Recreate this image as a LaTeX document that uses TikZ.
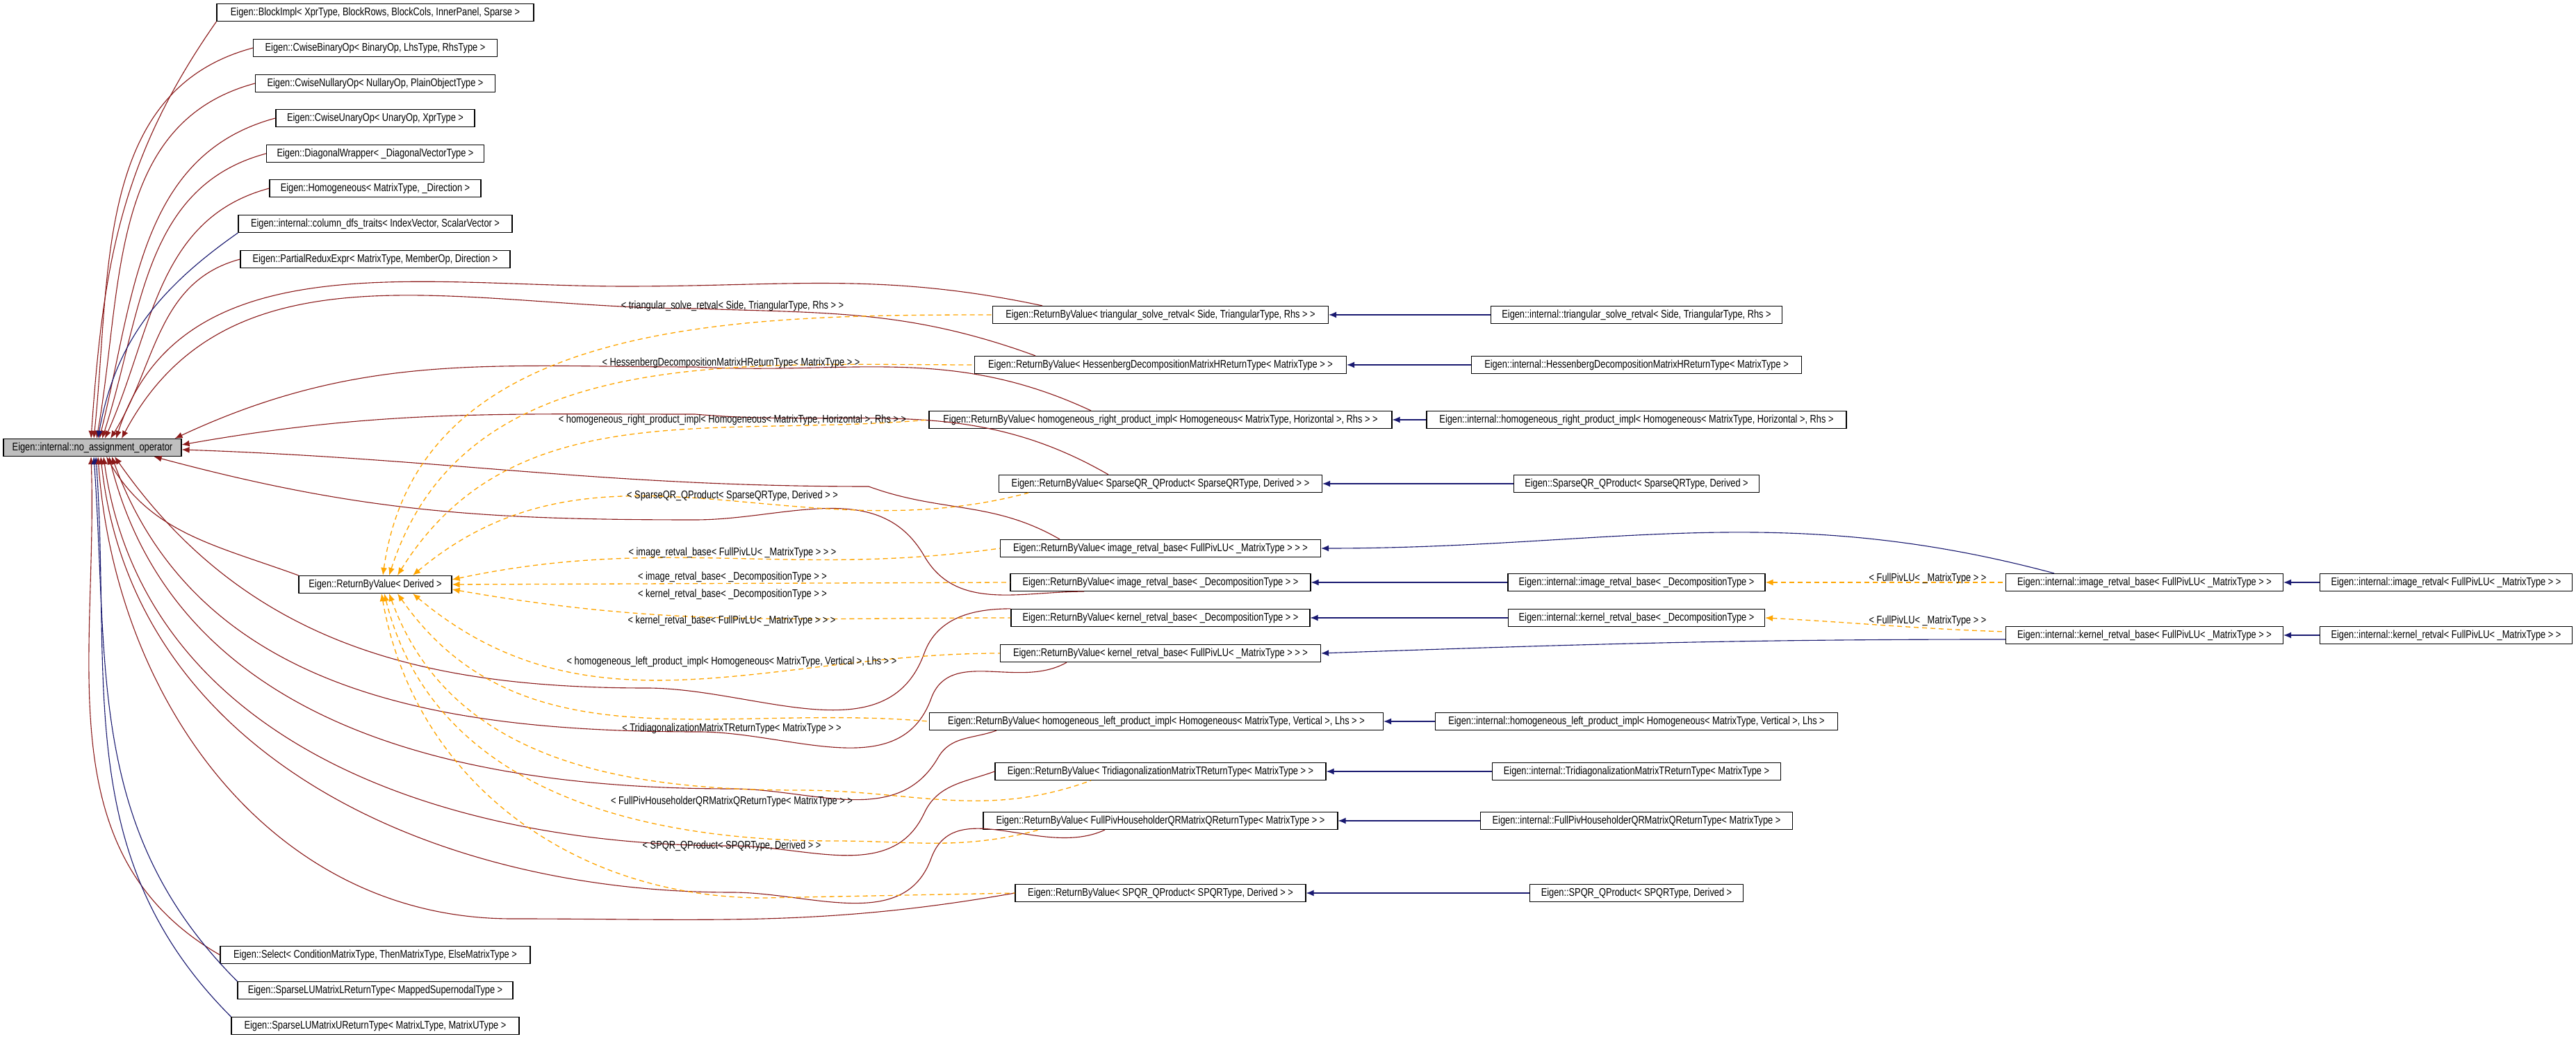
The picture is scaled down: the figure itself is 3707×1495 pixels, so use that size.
\documentclass[tikz,border=0pt]{standalone}
\usepackage{fontspec}
\setmainfont{Liberation Sans}[FakeStretch=0.8]
\usetikzlibrary{arrows.meta, calc}
\definecolor{privred}{RGB}{139,26,26}
\definecolor{pubblue}{RGB}{25,25,112}
\definecolor{tmplorange}{RGB}{255,165,0}
\definecolor{basegray}{RGB}{191,191,191}

\begin{document}
\begin{tikzpicture}[x=0.25pt, y=-0.25pt,
	cls/.style={draw, line width=0.3pt, minimum height=6.25pt, inner sep=0.5pt, font=\fontsize{4}{4.4}\selectfont},
	bw/.style={minimum width=#1*0.25pt},
	priv/.style={draw=privred, line width=0.28pt, {Latex[length=2.75pt,width=2.25pt]}-},
	pub/.style={draw=pubblue, line width=0.28pt, {Latex[length=2.75pt,width=2.25pt]}-},
	tmpl/.style={draw=tmplorange, line width=0.33pt, dash pattern=on 1.75pt off 1.25pt, {Latex[length=2.75pt,width=2.25pt]}-},
	lbl/.style={inner sep=0.25pt, font=\fontsize{4}{4.4}\selectfont}]
	\useasboundingbox (0,0) rectangle (3707,1495);

	% base class
	\node [cls, fill=basegray, bw=256] (na) at (133,644) {Eigen::internal::no\_assignment\_operator};

	% plain subclasses
	\node [cls, bw=456] (blk) at (540,18) {Eigen::BlockImpl< XprType, BlockRows, BlockCols, InnerPanel, Sparse >};
	\node [cls, bw=351] (cbin) at (540,69) {Eigen::CwiseBinaryOp< BinaryOp, LhsType, RhsType >};
	\node [cls, bw=345] (cnul) at (540,120) {Eigen::CwiseNullaryOp< NullaryOp, PlainObjectType >};
	\node [cls, bw=286] (cun) at (540,170) {Eigen::CwiseUnaryOp< UnaryOp, XprType >};
	\node [cls, bw=313] (diag) at (540,221) {Eigen::DiagonalWrapper< \_DiagonalVectorType >};
	\node [cls, bw=304] (homo) at (540,271) {Eigen::Homogeneous< MatrixType, \_Direction >};
	\node [cls, bw=394] (cdfs) at (540,322) {Eigen::internal::column\_dfs\_traits< IndexVector, ScalarVector >};
	\node [cls, bw=388] (prx) at (540,373) {Eigen::PartialReduxExpr< MatrixType, MemberOp, Direction >};
	\node [cls, bw=446] (sel) at (540,1374) {Eigen::Select< ConditionMatrixType, ThenMatrixType, ElseMatrixType >};
	\node [cls, bw=396] (slul) at (540,1425) {Eigen::SparseLUMatrixLReturnType< MappedSupernodalType >};
	\node [cls, bw=414] (sluu) at (540,1476) {Eigen::SparseLUMatrixUReturnType< MatrixLType, MatrixUType >};
	\node [cls, bw=220] (rbvd) at (540,841) {Eigen::ReturnByValue< Derived >};

	% ReturnByValue instances
	\node [cls, bw=483] (rtri) at (1670,453) {Eigen::ReturnByValue< triangular\_solve\_retval< Side, TriangularType, Rhs > >};
	\node [cls, bw=535] (rhes) at (1670,525) {Eigen::ReturnByValue< HessenbergDecompositionMatrixHReturnType< MatrixType > >};
	\node [cls, bw=666] (rhr) at (1670,604) {Eigen::ReturnByValue< homogeneous\_right\_product\_impl< Homogeneous< MatrixType, Horizontal >, Rhs > >};
	\node [cls, bw=465] (rsqr) at (1670,696) {Eigen::ReturnByValue< SparseQR\_QProduct< SparseQRType, Derived > >};
	\node [cls, bw=461] (rimf) at (1670,789) {Eigen::ReturnByValue< image\_retval\_base< FullPivLU< \_MatrixType > > >};
	\node [cls, bw=432] (rimd) at (1670,838) {Eigen::ReturnByValue< image\_retval\_base< \_DecompositionType > >};
	\node [cls, bw=430] (rked) at (1670,889) {Eigen::ReturnByValue< kernel\_retval\_base< \_DecompositionType > >};
	\node [cls, bw=461] (rkef) at (1670,940) {Eigen::ReturnByValue< kernel\_retval\_base< FullPivLU< \_MatrixType > > >};
	\node [cls, bw=653] (rhl) at (1664,1038) {Eigen::ReturnByValue< homogeneous\_left\_product\_impl< Homogeneous< MatrixType, Vertical >, Lhs > >};
	\node [cls, bw=476] (rtd) at (1670,1110) {Eigen::ReturnByValue< TridiagonalizationMatrixTReturnType< MatrixType > >};
	\node [cls, bw=510] (rfhh) at (1670,1181) {Eigen::ReturnByValue< FullPivHouseholderQRMatrixQReturnType< MatrixType > >};
	\node [cls, bw=418] (rspqr) at (1670,1285) {Eigen::ReturnByValue< SPQR\_QProduct< SPQRType, Derived > >};

	% implementing classes
	\node [cls, bw=419] (itri) at (2355,453) {Eigen::internal::triangular\_solve\_retval< Side, TriangularType, Rhs >};
	\node [cls, bw=475] (ihes) at (2355,525) {Eigen::internal::HessenbergDecompositionMatrixHReturnType< MatrixType >};
	\node [cls, bw=604] (ihr) at (2355,604) {Eigen::internal::homogeneous\_right\_product\_impl< Homogeneous< MatrixType, Horizontal >, Rhs >};
	\node [cls, bw=353] (isqr) at (2355,696) {Eigen::SparseQR\_QProduct< SparseQRType, Derived >};
	\node [cls, bw=370] (iimd) at (2355,838) {Eigen::internal::image\_retval\_base< \_DecompositionType >};
	\node [cls, bw=369] (iked) at (2355,889) {Eigen::internal::kernel\_retval\_base< \_DecompositionType >};
	\node [cls, bw=579] (ihl) at (2355,1038) {Eigen::internal::homogeneous\_left\_product\_impl< Homogeneous< MatrixType, Vertical >, Lhs >};
	\node [cls, bw=415] (itd) at (2355,1110) {Eigen::internal::TridiagonalizationMatrixTReturnType< MatrixType >};
	\node [cls, bw=449] (ifhh) at (2355,1181) {Eigen::internal::FullPivHouseholderQRMatrixQReturnType< MatrixType >};
	\node [cls, bw=307] (ispqr) at (2355,1285) {Eigen::SPQR\_QProduct< SPQRType, Derived >};
	\node [cls, bw=399] (iimf) at (3086,838) {Eigen::internal::image\_retval\_base< FullPivLU< \_MatrixType > >};
	\node [cls, bw=399] (ikef) at (3086,914) {Eigen::internal::kernel\_retval\_base< FullPivLU< \_MatrixType > >};
	\node [cls, bw=363] (imr) at (3520,838) {Eigen::internal::image\_retval< FullPivLU< \_MatrixType > >};
	\node [cls, bw=363] (ker) at (3520,914) {Eigen::internal::kernel\_retval< FullPivLU< \_MatrixType > >};

	% edges to the base class
	\draw [priv] ($(na.north)+(-2,0)$) to[out=86,in=235] (blk.south west);
	\draw [priv] ($(na.north)+(2,0)$) to[out=84,in=195] (cbin.west);
	\draw [priv] ($(na.north)+(6,0)$) to[out=80,in=195] (cnul.west);
	\draw [priv] ($(na.north)+(10,0)$) to[out=76,in=195] (cun.west);
	\draw [priv] ($(na.north)+(14,0)$) to[out=72,in=195] (diag.west);
	\draw [priv] ($(na.north)+(18,0)$) to[out=66,in=195] (homo.west);
	\draw [pub] ($(na.north)+(8,0)$) to[out=80,in=215] (cdfs.south west);
	\draw [priv] ($(na.north)+(26,0)$) to[out=58,in=195] (prx.west);
	\draw [priv] ($(na.south)+(-2,0)$) to[out=-88,in=150] (sel.west);
	\draw [pub] ($(na.south)+(2,0)$) to[out=-86,in=135] (slul.north west);
	\draw [pub] ($(na.south)+(5,0)$) to[out=-86,in=135] (sluu.north west);
	\draw [priv] ($(na.south)+(20,0)$) to[out=-60,in=160] (rbvd.north west);
	\draw [priv] ($(na.north)+(34,0)$) to[out=72,in=180] (900,412) to[out=0,in=168] ($(rtri.north)+(-170,0)$);
	\draw [priv] ($(na.north)+(42,0)$) to[out=62,in=180] (1000,444) to[out=-2,in=160] ($(rhes.north)+(-180,0)$);
	\draw [priv] ($(na.north east)+(-10,0)$) to[out=25,in=180] (1000,528) to[out=-3,in=155] ($(rhr.north)+(-100,0)$);
	\draw [priv] ($(na.east)+(0,-4)$) to[out=10,in=180] (1000,596) to[out=-5,in=150] ($(rsqr.north)+(-75,0)$);
	\draw [priv] ($(na.east)+(0,3)$) to[out=-2,in=180] (1250,700) to[out=-20,in=150] ($(rimf.north)+(-145,0)$);
	\draw [priv] ($(na.south east)+(-40,0)$) to[out=-15,in=180] (1000,748) to[out=0,in=120] (1330,800) to[out=-60,in=180] ($(rimd.south)+(-110,0)$);
	\draw [priv] ($(na.south)+(32,0)$) to[out=-55,in=180] (930,990) to[out=0,in=-110] (1330,940) to[out=70,in=180] (rked.north west);
	\draw [priv] ($(na.south)+(28,0)$) to[out=-70,in=180] (1005,1053) to[out=0,in=-110] (1340,1005) to[out=70,in=-150] ($(rkef.south)+(-135,0)$);
	\draw [priv] ($(na.south)+(24,0)$) to[out=-76,in=180] (1053,1135) to[out=0,in=-120] (1350,1090) to[out=60,in=-160] ($(rhl.south)+(-230,0)$);
	\draw [priv] ($(na.south)+(16,0)$) to[out=-82,in=180] (1053,1217) to[out=0,in=-115] (1330,1170) to[out=65,in=-160] (rtd.west);
	\draw [priv] ($(na.south)+(12,0)$) to[out=-84,in=180] (1053,1284) to[out=0,in=-110] (1340,1235) to[out=70,in=-155] ($(rfhh.south)+(-80,0)$);
	\draw [priv] ($(na.south)+(8,0)$) to[out=-86,in=180] (737,1322) to[out=0,in=190] (rspqr.west);

	% template instances
	\draw [tmpl] ($(rbvd.north)+(11,0)$) to[out=82,in=180] (rtri.west);
	\draw [tmpl] ($(rbvd.north)+(20,0)$) to[out=72,in=180] (rhes.west);
	\draw [tmpl] ($(rbvd.north)+(32,0)$) to[out=58,in=185] (rhr.west);
	\draw [tmpl] ($(rbvd.north)+(54,0)$) to[out=40,in=195] ($(rsqr.south)+(-190,0)$);
	\draw [tmpl] ($(rbvd.east)+(0,-7)$) to[out=12,in=188] (rimf.west);
	\draw [tmpl] (rbvd.east) -- (rimd.west);
	\draw [tmpl] ($(rbvd.east)+(0,7)$) to[out=-10,in=180] (rked.west);
	\draw [tmpl] ($(rbvd.south)+(54,0)$) to[out=-40,in=180] (rkef.west);
	\draw [tmpl] ($(rbvd.south)+(32,0)$) to[out=-55,in=175] (rhl.west);
	\draw [tmpl] ($(rbvd.south)+(20,0)$) to[out=-70,in=180] (1150,1137) to[out=0,in=-160] ($(rtd.south)+(-100,0)$);
	\draw [tmpl] ($(rbvd.south)+(13,0)$) to[out=-76,in=180] (1200,1210) to[out=0,in=-165] ($(rfhh.south)+(-175,0)$);
	\draw [tmpl] ($(rbvd.south)+(9,0)$) to[out=-80,in=180] (1100,1292) -- (rspqr.west);
	\node [lbl] (ltri) at (1054,440) {< triangular\_solve\_retval< Side, TriangularType, Rhs > >};
	\node [lbl] (lhes) at (1052,522) {< HessenbergDecompositionMatrixHReturnType< MatrixType > >};
	\node [lbl] (lhr) at (1054,604) {< homogeneous\_right\_product\_impl< Homogeneous< MatrixType, Horizontal >, Rhs > >};
	\node [lbl] (lsqr) at (1054,713) {< SparseQR\_QProduct< SparseQRType, Derived > >};
	\node [lbl] (limf) at (1054,795) {< image\_retval\_base< FullPivLU< \_MatrixType > > >};
	\node [lbl] (limd) at (1054,830) {< image\_retval\_base< \_DecompositionType > >};
	\node [lbl] (lked) at (1054,855) {< kernel\_retval\_base< \_DecompositionType > >};
	\node [lbl] (lkef) at (1053,893) {< kernel\_retval\_base< FullPivLU< \_MatrixType > > >};
	\node [lbl] (lhl) at (1053,952) {< homogeneous\_left\_product\_impl< Homogeneous< MatrixType, Vertical >, Lhs > >};
	\node [lbl] (ltd) at (1053,1048) {< TridiagonalizationMatrixTReturnType< MatrixType > >};
	\node [lbl] (lfhh) at (1053,1153) {< FullPivHouseholderQRMatrixQReturnType< MatrixType > >};
	\node [lbl] (lspqr) at (1053,1217) {< SPQR\_QProduct< SPQRType, Derived > >};

	% implementations
	\draw [pub] (rtri) -- (itri);
	\draw [pub] (rhes) -- (ihes);
	\draw [pub] (rhr) -- (ihr);
	\draw [pub] (rsqr) -- (isqr);
	\draw [pub] (rimd) -- (iimd);
	\draw [pub] (rked) -- (iked);
	\draw [pub] (rhl) -- (ihl);
	\draw [pub] (rtd) -- (itd);
	\draw [pub] (rfhh) -- (ifhh);
	\draw [pub] (rspqr) -- (ispqr);
	\draw [pub] (rimf.east) to[out=0,in=165] ($(iimf.north)+(-130,0)$);
	\draw [pub] (rkef.east) to[out=2,in=180] ($(ikef.west)+(0,6)$);
	\draw [pub] (iimf) -- (imr);
	\draw [pub] (ikef) -- (ker);
	\draw [tmpl] (iimd.east) -- (iimf.west);
	\draw [tmpl] (iked.east) to[out=-3,in=178] ($(ikef.west)+(0,-5)$);
	\node [lbl] (liimf) at (2774,832) {< FullPivLU< \_MatrixType > >};
	\node [lbl] (likef) at (2774,893) {< FullPivLU< \_MatrixType > >};
\end{tikzpicture}
\end{document}
